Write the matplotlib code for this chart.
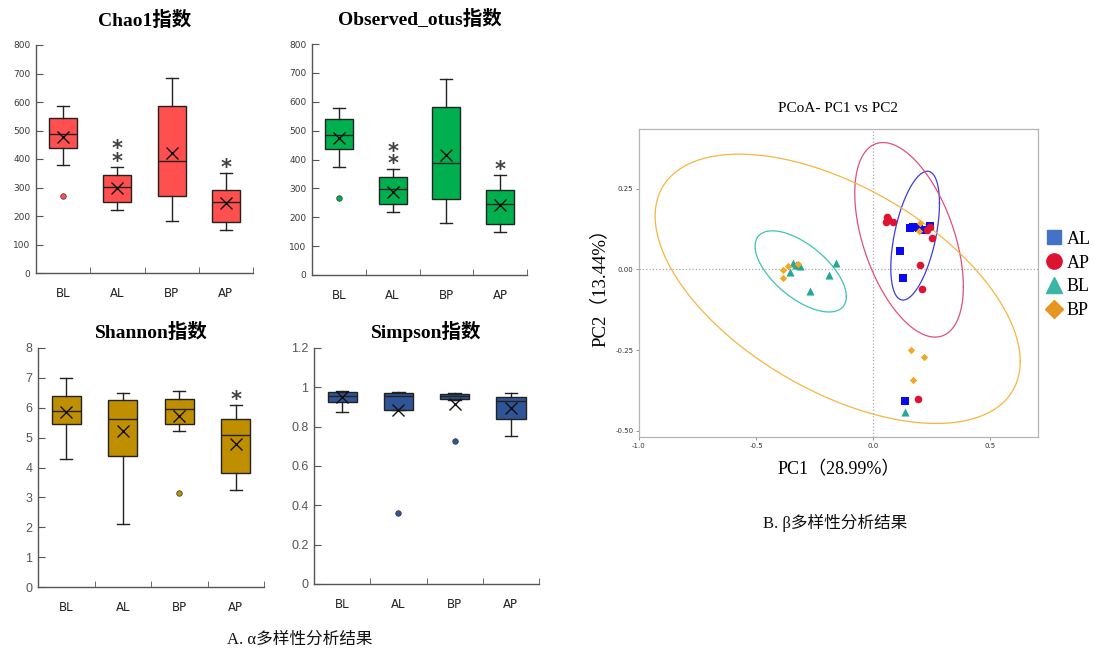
import matplotlib
matplotlib.use('Agg')
import matplotlib.pyplot as plt
import numpy as np
from matplotlib.lines import Line2D

# ---------------- data ----------------
groups = ['BL', 'AL', 'BP', 'AP']

chao1_whishi = [585, 373, 685, 352]
chao1_q3 = [543, 344, 587, 292]
chao1_med = [489, 303, 392, 250]
chao1_mean = [478, 297, 421, 246]
chao1_q1 = [439, 248, 271, 178]
chao1_whislo = [379, 222, 182, 152]
chao1_fliers = [[271], [], [], []]
chao1_stars = ['', '**', '', '*']

obs_whishi = [577, 366, 680, 348]
obs_q3 = [539, 338, 582, 294]
obs_med = [484, 299, 388, 246]
obs_mean = [473, 289, 417, 241]
obs_q1 = [437, 245, 262, 175]
obs_whislo = [375, 218, 179, 149]
obs_fliers = [[268], [], [], []]
obs_stars = ['', '**', '', '*']

shan_whishi = [7.01, 6.48, 6.56, 6.10]
shan_q3 = [6.41, 6.27, 6.29, 5.62]
shan_med = [5.90, 5.64, 5.96, 5.09]
shan_mean = [5.86, 5.22, 5.71, 4.77]
shan_q1 = [5.45, 4.39, 5.47, 3.82]
shan_whislo = [4.29, 2.10, 5.21, 3.24]
shan_fliers = [[], [], [3.14], []]
shan_stars = ['', '', '', '*']

simp_whishi = [0.981, 0.975, 0.969, 0.969]
simp_q3 = [0.975, 0.971, 0.966, 0.949]
simp_med = [0.958, 0.956, 0.956, 0.929]
simp_mean = [0.951, 0.886, 0.917, 0.893]
simp_q1 = [0.925, 0.885, 0.941, 0.837]
simp_whislo = [0.875, 0.883, 0.935, 0.751]
simp_fliers = [[], [0.363], [0.729], []]
simp_stars = ['', '', '', '']

# PCoA scores
pc_groups = ['AL', 'AP', 'BL', 'BP']
al_pc1 = [0.117, 0.126, 0.160, 0.171, 0.186, 0.197, 0.214, 0.243, 0.137]
al_pc2 = [0.057, -0.028, 0.130, 0.131, 0.133, 0.128, 0.122, 0.135, -0.407]
ap_pc1 = [0.060, 0.057, 0.065, 0.086, 0.200, 0.210, 0.229, 0.243, 0.250, 0.193]
ap_pc2 = [0.164, 0.148, 0.156, 0.148, 0.013, -0.060, 0.122, 0.133, 0.099, -0.401]
bl_pc1 = [-0.343, -0.353, -0.314, -0.330, -0.271, -0.186, -0.157, 0.137]
bl_pc2 = [0.019, -0.007, 0.010, 0.014, -0.067, -0.018, 0.019, -0.443]
bp_pc1 = [-0.383, -0.383, -0.364, -0.321, 0.200, 0.197, 0.161, 0.217, 0.171]
bp_pc2 = [-0.003, -0.026, 0.010, 0.017, 0.145, 0.118, -0.249, -0.272, -0.342]

# confidence ellipses (centre, spread along PC1 / PC2, correlation)
ell_cx = [0.180, 0.154, -0.309, -0.151]
ell_cy = [0.105, 0.092, -0.006, -0.060]
ell_rx = [0.104, 0.232, 0.195, 0.780]
ell_ry = [0.200, 0.302, 0.126, 0.418]
ell_rho = [0.50, -0.48, -0.62, -0.54]

pc1_label = 'PC1（28.99%）'
pc2_label = 'PC2（13.44%）'

# ---------------- figure ----------------
W, H = 1094, 654
fig = plt.figure(figsize=(W / 100, H / 100), dpi=100)
fig.patch.set_facecolor('white')

title_font = ['Liberation Serif', 'Noto Sans CJK SC']


def px_axes(left, right, top, bottom):
    return fig.add_axes([left / W, 1 - bottom / H, (right - left) / W, (bottom - top) / H])


def box_panel(rect, title, whishi, q3, med, mean, q1, whislo, fliers, stars,
              color, ylim, ystep, yfmt, ytick_size, ytick_font, ytick_color, title_pad):
    ax = px_axes(*rect)
    stats = []
    for i in range(len(groups)):
        stats.append(dict(med=med[i], q1=q1[i], q3=q3[i], whislo=whislo[i],
                          whishi=whishi[i], mean=mean[i], fliers=fliers[i], label=groups[i]))
    ax.bxp(stats, positions=range(1, len(groups) + 1), widths=0.52, patch_artist=True,
           showmeans=True, showfliers=True,
           boxprops=dict(facecolor=color, edgecolor='#222222', linewidth=1.0),
           medianprops=dict(color='#222222', linewidth=1.0),
           whiskerprops=dict(color='#222222', linewidth=1.0),
           capprops=dict(color='#222222', linewidth=1.0),
           capwidths=0.22,
           meanprops=dict(marker='x', markeredgecolor='#111111', markersize=8, markeredgewidth=1.0),
           flierprops=dict(marker='o', markerfacecolor=color, markeredgecolor='#333333',
                           markersize=4, markeredgewidth=0.5))
    ax.set_xlim(0.5, len(groups) + 0.5)
    ax.set_ylim(*ylim)
    ticks = np.arange(ylim[0], ylim[1] + ystep / 2, ystep)
    ax.set_yticks(ticks)
    ax.set_yticklabels([yfmt(v) for v in ticks],
                       fontsize=ytick_size, family=ytick_font, color=ytick_color)
    ax.set_xticks(range(1, len(groups) + 1))
    ax.set_xticklabels(groups, fontsize=8.5, family='DejaVu Sans', color='#222222')
    ax.set_xticks(np.arange(0.5, len(groups) + 1), minor=True)
    ax.tick_params(axis='x', which='major', length=0, pad=10)
    ax.tick_params(axis='x', which='minor', length=4, direction='in', color='#555555')
    ax.tick_params(axis='y', length=5, direction='in', color='#555555', pad=4)
    for s in ['top', 'right']:
        ax.spines[s].set_visible(False)
    for s in ['left', 'bottom']:
        ax.spines[s].set_color('#555555')
        ax.spines[s].set_linewidth(1.0)
    ax.set_facecolor('none')
    for i, st in enumerate(stars):
        if not st:
            continue
        n = len(st)
        # stacked asterisks above the upper whisker
        off = 3.5 + (n - 1) * 4.7
        ax.annotate('\n'.join(st), xy=(i + 1, whishi[i]), xytext=(0, off),
                    textcoords='offset points', ha='center', va='center',
                    fontsize=15, fontweight='bold', color='#404040', family='DejaVu Sans',
                    linespacing=0.55)
    ax.set_title(title, family=title_font, fontweight='bold', fontsize=14, pad=title_pad)
    return ax


int_fmt = lambda v: '%d' % round(v)
def simp_fmt(v):
    r = round(v, 1)
    return '%d' % r if abs(r - round(r)) < 1e-9 else '%.1f' % r

box_panel((36, 253, 45, 273), 'Chao1指数', chao1_whishi, chao1_q3, chao1_med, chao1_mean,
          chao1_q1, chao1_whislo, chao1_fliers, chao1_stars, '#FF4F4F', (0, 800), 100,
          int_fmt, 6.5, 'DejaVu Sans', '#3a3a3a', 14)
box_panel((312, 527, 44, 275), 'Observed_otus指数', obs_whishi, obs_q3, obs_med, obs_mean,
          obs_q1, obs_whislo, obs_fliers, obs_stars, '#00B04F', (0, 800), 100,
          int_fmt, 6.5, 'DejaVu Sans', '#3a3a3a', 14)
box_panel((38, 264, 348, 587), 'Shannon指数', shan_whishi, shan_q3, shan_med, shan_mean,
          shan_q1, shan_whislo, shan_fliers, shan_stars, '#BF8F00', (0, 8), 1,
          int_fmt, 9, 'Liberation Sans', '#555555', 7.5)
box_panel((314, 539, 348, 584), 'Simpson指数', simp_whishi, simp_q3, simp_med, simp_mean,
          simp_q1, simp_whislo, simp_fliers, simp_stars, '#2F5597', (0, 1.2), 0.2,
          simp_fmt, 9, 'Liberation Sans', '#555555', 7.5)

fig.text(300 / W, 1 - 640 / H, 'A. α多样性分析结果', family=title_font, fontsize=12,
         ha='center', va='center', color='#111111')

# ---------------- PCoA ----------------
ax = px_axes(639, 1038, 129, 437)
ax.set_xlim(-1.0, 0.705)
ax.set_ylim(-0.52, 0.436)

pt_colors = ['#0A0AF0', '#DC1432', '#23A896', '#F5A623']
ell_colors = ['#3B3BE6', '#E0507A', '#3CC4B4', '#F7B540']
leg_colors = ['#4472C4', '#DC1432', '#3CB4A8', '#E6961E']
markers = ['s', 'o', '^', 'D']
sizes = [26, 30, 34, 14]
xs = [al_pc1, ap_pc1, bl_pc1, bp_pc1]
ys = [al_pc2, ap_pc2, bl_pc2, bp_pc2]

ax.axhline(0, color='#aaaaaa', linestyle=':', linewidth=0.9, zorder=0)
ax.axvline(0, color='#aaaaaa', linestyle=':', linewidth=0.9, zorder=0)

t = np.linspace(0, 2 * np.pi, 400)
for i in range(4):
    phi = np.arccos(ell_rho[i])
    ex = ell_cx[i] + ell_rx[i] * np.cos(t)
    ey = ell_cy[i] + ell_ry[i] * np.cos(t - phi)
    ax.plot(ex, ey, color=ell_colors[i], linewidth=0.9, zorder=1)

for i in range(4):
    ax.scatter(xs[i], ys[i], marker=markers[i], s=sizes[i], color=pt_colors[i],
               linewidths=0, zorder=3)

ax.set_xticks([-1.0, -0.5, 0.0, 0.5])
ax.set_xticklabels(['-1.0', '-0.5', '0.0', '0.5'])
ax.set_yticks([-0.5, -0.25, 0.0, 0.25])
ax.set_yticklabels(['-0.50', '-0.25', '0.00', '0.25'])
ax.tick_params(labelsize=5, length=2, width=0.5, color='#666666', labelcolor='#333333', pad=2)
for s in ax.spines.values():
    s.set_color('#b5b5b5')
    s.set_linewidth(0.9)
ax.set_xlabel(pc1_label, family=title_font, fontsize=13, labelpad=9)
ax.set_ylabel(pc2_label, family=title_font, fontsize=13.5, labelpad=5)
ax.set_title('PCoA- PC1 vs PC2', family=title_font, fontsize=11, pad=12)

handles = [Line2D([], [], marker=markers[i], color=leg_colors[i], linestyle='none',
                  markersize=[10, 11, 11, 9][i]) for i in range(4)]
fig.legend(handles, pc_groups, loc='center left', bbox_to_anchor=(1038 / W, 1 - 275 / H),
           frameon=False, prop={'family': 'Liberation Serif', 'size': 13},
           handletextpad=0.2, labelspacing=0.38, borderaxespad=0, handlelength=1.0)

fig.text(835 / W, 1 - 523 / H, 'B. β多样性分析结果', family=title_font, fontsize=12,
         ha='center', va='center', color='#111111')

fig.savefig('out.png', dpi=100, facecolor='white')
